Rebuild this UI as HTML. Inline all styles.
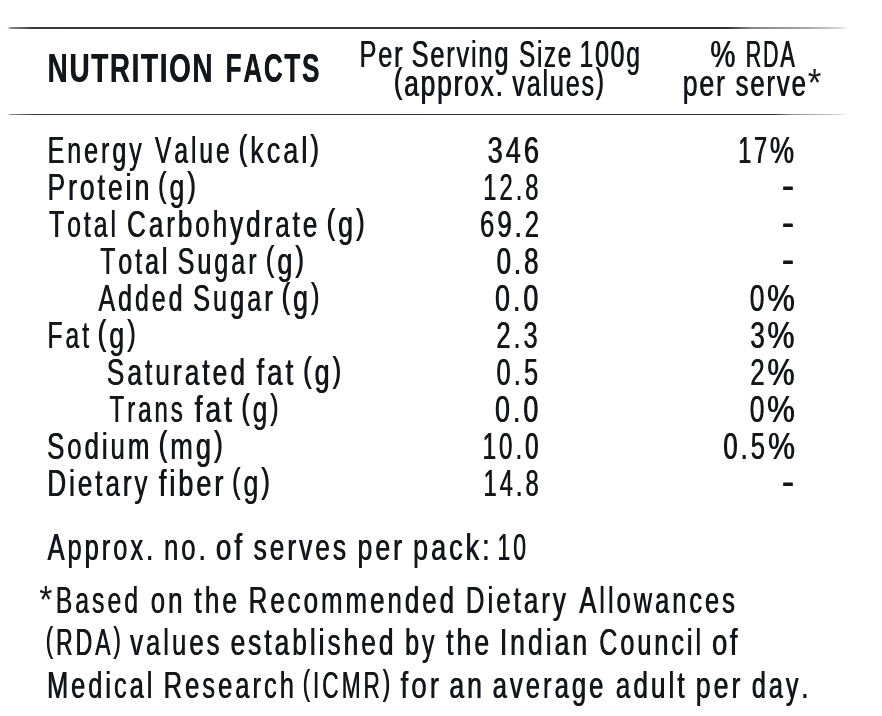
<!DOCTYPE html>
<html lang="en"><head><meta charset="utf-8"><title>Nutrition Facts</title>
<style>
html,body{margin:0;padding:0;background:#fff;}
body{width:882px;height:716px;overflow:hidden;position:relative;}
.as{display:inline-block;text-shadow:none;transform:scale(1.36,1.08);transform-origin:0 69%;margin-right:.14em;}
.pc{display:inline-block;transform:scaleX(1.18);transform-origin:0 50%;}
.p{position:relative;top:-3px;font-size:.96em;}
.t{position:absolute;left:0;top:0;margin:0;font-family:"Liberation Sans",sans-serif;color:#14161b;font-kerning:none;white-space:pre;line-height:1;transform-origin:0 0;}
.rule{position:absolute;left:7px;width:862px;height:1.4px;}
.r1{top:27.3px;background:linear-gradient(to right,rgba(38,38,38,0) 0,rgba(38,38,38,.55) 4px,rgba(38,38,38,.9) 25px,rgba(38,38,38,.95) 720px,rgba(38,38,38,.55) 745px,rgba(38,38,38,.4) 800px,rgba(38,38,38,.22) 830px,rgba(38,38,38,0) 842px);}
.r2{top:113.6px;background:linear-gradient(to right,rgba(38,38,38,0) 0,rgba(38,38,38,.55) 4px,rgba(38,38,38,.9) 25px,rgba(38,38,38,.95) 765px,rgba(38,38,38,.5) 785px,rgba(38,38,38,.35) 815px,rgba(38,38,38,.2) 832px,rgba(38,38,38,0) 842px);}
</style></head><body>
<div class="rule r1"></div>
<div class="rule r2"></div>
<div class="ln"><span class="t" style="font-size:40.7px;font-weight:700;letter-spacing:2.41px;text-shadow:0.5px 0 0 #14161b;transform:translate(47.52px,48px) scaleX(0.6846)">NUTRITION</span> <span class="t" style="font-size:40.7px;font-weight:700;letter-spacing:2.57px;text-shadow:0.5px 0 0 #14161b;transform:translate(225.54px,48px) scaleX(0.6425)">FACTS</span></div>
<div class="ln"><span class="t" style="font-size:36.6px;letter-spacing:2.59px;text-shadow:0.9px 0 0 #14161b;transform:translate(359.16px,37px) scaleX(0.6949)">Per</span> <span class="t" style="font-size:36.6px;letter-spacing:2.59px;text-shadow:0.9px 0 0 #14161b;transform:translate(411.29px,37px) scaleX(0.6938)">Serving</span> <span class="t" style="font-size:36.6px;letter-spacing:2.75px;text-shadow:0.9px 0 0 #14161b;transform:translate(518.86px,37px) scaleX(0.6551)">Size</span> <span class="t" style="font-size:36.6px;letter-spacing:2.66px;text-shadow:0.9px 0 0 #14161b;transform:translate(579.21px,37px) scaleX(0.677)">100g</span></div>
<div class="ln"><span class="t" style="font-size:36.6px;letter-spacing:2.5px;text-shadow:0.9px 0 0 #14161b;transform:translate(393.56px,66px) scaleX(0.7214)"><span class="p">(</span>approx.</span> <span class="t" style="font-size:36.6px;letter-spacing:2.62px;text-shadow:0.9px 0 0 #14161b;transform:translate(512.04px,66px) scaleX(0.6877)">values<span class="p">)</span></span></div>
<div class="ln"><span class="t" style="font-size:36.6px;letter-spacing:0px;text-shadow:0.9px 0 0 #14161b;transform:translate(710.01px,37px) scaleX(0.7698)">%</span> <span class="t" style="font-size:36.6px;letter-spacing:3.07px;text-shadow:0.9px 0 0 #14161b;transform:translate(745.49px,37px) scaleX(0.587)">RDA</span></div>
<div class="ln"><span class="t" style="font-size:36.6px;letter-spacing:2.47px;text-shadow:0.9px 0 0 #14161b;transform:translate(682.41px,66px) scaleX(0.7292)">per</span> <span class="t" style="font-size:36.6px;letter-spacing:2.64px;text-shadow:0.9px 0 0 #14161b;transform:translate(735.34px,66px) scaleX(0.7022)">serve<span class="as">*</span></span></div>
<div class="ln"><span class="t" style="font-size:36.6px;letter-spacing:4.4px;text-shadow:0.9px 0 0 #14161b;transform:translate(47.29px,133px) scaleX(0.6823)">Energy</span> <span class="t" style="font-size:36.6px;letter-spacing:4.49px;text-shadow:0.9px 0 0 #14161b;transform:translate(154.72px,133px) scaleX(0.6685)">Value</span> <span class="t" style="font-size:36.6px;letter-spacing:4.05px;text-shadow:0.9px 0 0 #14161b;transform:translate(238.22px,133px) scaleX(0.7401)"><span class="p">(</span>kcal<span class="p">)</span></span></div>
<div class="ln"><span class="t" style="font-size:36.6px;letter-spacing:4.15px;text-shadow:0.9px 0 0 #14161b;transform:translate(47.17px,170px) scaleX(0.7228)">Protein</span> <span class="t" style="font-size:36.6px;letter-spacing:4.12px;text-shadow:0.9px 0 0 #14161b;transform:translate(157.64px,170px) scaleX(0.7287)"><span class="p">(</span>g<span class="p">)</span></span></div>
<div class="ln"><span class="t" style="font-size:36.6px;letter-spacing:4.45px;text-shadow:0.9px 0 0 #14161b;transform:translate(48.83px,207px) scaleX(0.6744)">Total</span> <span class="t" style="font-size:36.6px;letter-spacing:4.23px;text-shadow:0.9px 0 0 #14161b;transform:translate(126.75px,207px) scaleX(0.7093)">Carbohydrate</span> <span class="t" style="font-size:36.6px;letter-spacing:4.09px;text-shadow:0.9px 0 0 #14161b;transform:translate(326.23px,207px) scaleX(0.7337)"><span class="p">(</span>g<span class="p">)</span></span></div>
<div class="ln"><span class="t" style="font-size:36.6px;letter-spacing:4.42px;text-shadow:0.9px 0 0 #14161b;transform:translate(99.93px,244px) scaleX(0.6782)">Total</span> <span class="t" style="font-size:36.6px;letter-spacing:4.37px;text-shadow:0.9px 0 0 #14161b;transform:translate(177.31px,244px) scaleX(0.6858)">Sugar</span> <span class="t" style="font-size:36.6px;letter-spacing:4.07px;text-shadow:0.9px 0 0 #14161b;transform:translate(265.43px,244px) scaleX(0.7362)"><span class="p">(</span>g<span class="p">)</span></span></div>
<div class="ln"><span class="t" style="font-size:36.6px;letter-spacing:4.4px;text-shadow:0.9px 0 0 #14161b;transform:translate(98.16px,281px) scaleX(0.6812)">Added</span> <span class="t" style="font-size:36.6px;letter-spacing:4.46px;text-shadow:0.9px 0 0 #14161b;transform:translate(192.84px,281px) scaleX(0.69)">Sugar</span> <span class="t" style="font-size:36.6px;letter-spacing:4.12px;text-shadow:0.9px 0 0 #14161b;transform:translate(281.34px,281px) scaleX(0.7287)"><span class="p">(</span>g<span class="p">)</span></span></div>
<div class="ln"><span class="t" style="font-size:36.6px;letter-spacing:4.46px;text-shadow:0.9px 0 0 #14161b;transform:translate(47.22px,318px) scaleX(0.6727)">Fat</span> <span class="t" style="font-size:36.6px;letter-spacing:4.07px;text-shadow:0.9px 0 0 #14161b;transform:translate(97.33px,318px) scaleX(0.7362)"><span class="p">(</span>g<span class="p">)</span></span></div>
<div class="ln"><span class="t" style="font-size:36.6px;letter-spacing:4.17px;text-shadow:0.9px 0 0 #14161b;transform:translate(106.44px,355px) scaleX(0.7198)">Saturated</span> <span class="t" style="font-size:36.6px;letter-spacing:3.96px;text-shadow:0.9px 0 0 #14161b;transform:translate(256.17px,355px) scaleX(0.757)">fat</span> <span class="t" style="font-size:36.6px;letter-spacing:4.09px;text-shadow:0.9px 0 0 #14161b;transform:translate(302.73px,355px) scaleX(0.7337)"><span class="p">(</span>g<span class="p">)</span></span></div>
<div class="ln"><span class="t" style="font-size:36.6px;letter-spacing:4.58px;text-shadow:0.9px 0 0 #14161b;transform:translate(109.25px,392px) scaleX(0.6551)">Trans</span> <span class="t" style="font-size:36.6px;letter-spacing:3.89px;text-shadow:0.9px 0 0 #14161b;transform:translate(194.26px,392px) scaleX(0.7717)">fat</span> <span class="t" style="font-size:36.6px;letter-spacing:4.2px;text-shadow:0.9px 0 0 #14161b;transform:translate(241.08px,392px) scaleX(0.7138)"><span class="p">(</span>g<span class="p">)</span></span></div>
<div class="ln"><span class="t" style="font-size:36.6px;letter-spacing:4.21px;text-shadow:0.9px 0 0 #14161b;transform:translate(46.8px,429px) scaleX(0.7044)">Sodium</span> <span class="t" style="font-size:36.6px;letter-spacing:4.03px;text-shadow:0.9px 0 0 #14161b;transform:translate(158.21px,429px) scaleX(0.7443)"><span class="p">(</span>mg<span class="p">)</span></span></div>
<div class="ln"><span class="t" style="font-size:36.6px;letter-spacing:4.24px;text-shadow:0.9px 0 0 #14161b;transform:translate(47.12px,466px) scaleX(0.7079)">Dietary</span> <span class="t" style="font-size:36.6px;letter-spacing:4.06px;text-shadow:0.9px 0 0 #14161b;transform:translate(158.48px,466px) scaleX(0.7381)">fiber</span> <span class="t" style="font-size:36.6px;letter-spacing:4.12px;text-shadow:0.9px 0 0 #14161b;transform:translate(231.64px,466px) scaleX(0.7287)"><span class="p">(</span>g<span class="p">)</span></span></div>
<div class="ln"><span class="t" style="font-size:36.6px;letter-spacing:4.04px;text-shadow:0.9px 0 0 #14161b;transform:translate(487.32px,133px) scaleX(0.7427)">346</span></div>
<div class="ln"><span class="t" style="font-size:36.6px;letter-spacing:4.62px;text-shadow:0.9px 0 0 #14161b;transform:translate(482.99px,170px) scaleX(0.6488)">12.8</span></div>
<div class="ln"><span class="t" style="font-size:36.6px;letter-spacing:4.19px;text-shadow:0.9px 0 0 #14161b;transform:translate(479.7px,207px) scaleX(0.7048)">69.2</span></div>
<div class="ln"><span class="t" style="font-size:36.6px;letter-spacing:4.25px;text-shadow:0.9px 0 0 #14161b;transform:translate(496.25px,244px) scaleX(0.7058)">0.8</span></div>
<div class="ln"><span class="t" style="font-size:36.6px;letter-spacing:4.09px;text-shadow:0.9px 0 0 #14161b;transform:translate(494.71px,281px) scaleX(0.734)">0.0</span></div>
<div class="ln"><span class="t" style="font-size:36.6px;letter-spacing:4.32px;text-shadow:0.9px 0 0 #14161b;transform:translate(496.01px,318px) scaleX(0.6948)">2.3</span></div>
<div class="ln"><span class="t" style="font-size:36.6px;letter-spacing:4.47px;text-shadow:0.9px 0 0 #14161b;transform:translate(496.24px,355px) scaleX(0.6948)">0.5</span></div>
<div class="ln"><span class="t" style="font-size:36.6px;letter-spacing:4.09px;text-shadow:0.9px 0 0 #14161b;transform:translate(494.71px,392px) scaleX(0.734)">0.0</span></div>
<div class="ln"><span class="t" style="font-size:36.6px;letter-spacing:4.55px;text-shadow:0.9px 0 0 #14161b;transform:translate(482.36px,429px) scaleX(0.6589)">10.0</span></div>
<div class="ln"><span class="t" style="font-size:36.6px;letter-spacing:4.62px;text-shadow:0.9px 0 0 #14161b;transform:translate(483.19px,466px) scaleX(0.6488)">14.8</span></div>
<div class="ln"><span class="t" style="font-size:36.6px;letter-spacing:4.72px;text-shadow:0.9px 0 0 #14161b;transform:translate(738.06px,133px) scaleX(0.6306)">17<span class="pc">%</span></span></div>
<div class="ln"><span class="t" style="font-size:36.6px;letter-spacing:3.78px;text-shadow:0.9px 0 0 #14161b;transform:translate(749.41px,281px) scaleX(0.7218)">0<span class="pc">%</span></span></div>
<div class="ln"><span class="t" style="font-size:36.6px;letter-spacing:3.93px;text-shadow:0.9px 0 0 #14161b;transform:translate(750.07px,318px) scaleX(0.7069)">3<span class="pc">%</span></span></div>
<div class="ln"><span class="t" style="font-size:36.6px;letter-spacing:3.32px;text-shadow:0.9px 0 0 #14161b;transform:translate(749.96px,355px) scaleX(0.7104)">2<span class="pc">%</span></span></div>
<div class="ln"><span class="t" style="font-size:36.6px;letter-spacing:3.78px;text-shadow:0.9px 0 0 #14161b;transform:translate(749.41px,392px) scaleX(0.7218)">0<span class="pc">%</span></span></div>
<div class="ln"><span class="t" style="font-size:36.6px;letter-spacing:4.3px;text-shadow:0.9px 0 0 #14161b;transform:translate(723.11px,429px) scaleX(0.6991)">0.5<span class="pc">%</span></span></div>
<div class="ln"><span class="t" style="font-size:42.5px;letter-spacing:0px;text-shadow:0.9px 0 0 #14161b;transform:translate(781.56px,165px) scaleX(0.8632)">-</span></div>
<div class="ln"><span class="t" style="font-size:42.5px;letter-spacing:0px;text-shadow:0.9px 0 0 #14161b;transform:translate(781.56px,202px) scaleX(0.8632)">-</span></div>
<div class="ln"><span class="t" style="font-size:42.5px;letter-spacing:0px;text-shadow:0.9px 0 0 #14161b;transform:translate(781.56px,239px) scaleX(0.8632)">-</span></div>
<div class="ln"><span class="t" style="font-size:42.5px;letter-spacing:0px;text-shadow:0.9px 0 0 #14161b;transform:translate(781.56px,461px) scaleX(0.8632)">-</span></div>
<div class="ln"><span class="t" style="font-size:36.6px;letter-spacing:4.32px;text-shadow:0.9px 0 0 #14161b;transform:translate(47.25px,530px) scaleX(0.6951)">Approx.</span> <span class="t" style="font-size:36.6px;letter-spacing:4.26px;text-shadow:0.9px 0 0 #14161b;transform:translate(163.63px,530px) scaleX(0.7036)">no.</span> <span class="t" style="font-size:36.6px;letter-spacing:3.94px;text-shadow:0.9px 0 0 #14161b;transform:translate(215.57px,530px) scaleX(0.7606)">of</span> <span class="t" style="font-size:36.6px;letter-spacing:4.18px;text-shadow:0.9px 0 0 #14161b;transform:translate(253.26px,530px) scaleX(0.7183)">serves</span> <span class="t" style="font-size:36.6px;letter-spacing:4.11px;text-shadow:0.9px 0 0 #14161b;transform:translate(357.21px,530px) scaleX(0.7292)">per</span> <span class="t" style="font-size:36.6px;letter-spacing:4.06px;text-shadow:0.9px 0 0 #14161b;transform:translate(412.68px,530px) scaleX(0.7393)">pack:</span> <span class="t" style="font-size:36.6px;letter-spacing:4.77px;text-shadow:0.9px 0 0 #14161b;transform:translate(497.24px,530px) scaleX(0.6283)">10</span></div>
<div class="ln"><span class="t" style="font-size:36.6px;letter-spacing:4.42px;text-shadow:0.9px 0 0 #14161b;transform:translate(39.25px,583px) scaleX(0.6786)"><span class="as">*</span>Based</span> <span class="t" style="font-size:36.6px;letter-spacing:4.26px;text-shadow:0.9px 0 0 #14161b;transform:translate(150.47px,583px) scaleX(0.7041)">on</span> <span class="t" style="font-size:36.6px;letter-spacing:4.25px;text-shadow:0.9px 0 0 #14161b;transform:translate(194.12px,583px) scaleX(0.7178)">the</span> <span class="t" style="font-size:36.6px;letter-spacing:4.24px;text-shadow:0.9px 0 0 #14161b;transform:translate(248.32px,583px) scaleX(0.707)">Recommended</span> <span class="t" style="font-size:36.6px;letter-spacing:4.23px;text-shadow:0.9px 0 0 #14161b;transform:translate(465.41px,583px) scaleX(0.7088)">Dietary</span> <span class="t" style="font-size:36.6px;letter-spacing:4.32px;text-shadow:0.9px 0 0 #14161b;transform:translate(579.05px,583px) scaleX(0.6946)">Allowances</span></div>
<div class="ln"><span class="t" style="font-size:36.6px;letter-spacing:4.79px;text-shadow:0.9px 0 0 #14161b;transform:translate(45.48px,625px) scaleX(0.6264)"><span class="p">(</span>RDA<span class="p">)</span></span> <span class="t" style="font-size:36.6px;letter-spacing:4.27px;text-shadow:0.9px 0 0 #14161b;transform:translate(129.84px,625px) scaleX(0.7027)">values</span> <span class="t" style="font-size:36.6px;letter-spacing:4.17px;text-shadow:0.9px 0 0 #14161b;transform:translate(230.23px,625px) scaleX(0.7186)">established</span> <span class="t" style="font-size:36.6px;letter-spacing:4.39px;text-shadow:0.9px 0 0 #14161b;transform:translate(404.82px,625px) scaleX(0.6841)">by</span> <span class="t" style="font-size:36.6px;letter-spacing:4.14px;text-shadow:0.9px 0 0 #14161b;transform:translate(445.97px,625px) scaleX(0.7239)">the</span> <span class="t" style="font-size:36.6px;letter-spacing:4.13px;text-shadow:0.9px 0 0 #14161b;transform:translate(499.5px,625px) scaleX(0.7257)">Indian</span> <span class="t" style="font-size:36.6px;letter-spacing:4.36px;text-shadow:0.9px 0 0 #14161b;transform:translate(598.89px,625px) scaleX(0.6876)">Council</span> <span class="t" style="font-size:36.6px;letter-spacing:3.63px;text-shadow:0.9px 0 0 #14161b;transform:translate(711.71px,625px) scaleX(0.7438)">of</span></div>
<div class="ln"><span class="t" style="font-size:36.6px;letter-spacing:4.33px;text-shadow:0.9px 0 0 #14161b;transform:translate(46.76px,668px) scaleX(0.6927)">Medical</span> <span class="t" style="font-size:36.6px;letter-spacing:4.3px;text-shadow:0.9px 0 0 #14161b;transform:translate(163.35px,668px) scaleX(0.6979)">Research</span> <span class="t" style="font-size:36.6px;letter-spacing:4.85px;text-shadow:0.9px 0 0 #14161b;transform:translate(302.49px,668px) scaleX(0.6188)"><span class="p">(</span>ICMR<span class="p">)</span></span> <span class="t" style="font-size:36.6px;letter-spacing:3.94px;text-shadow:0.9px 0 0 #14161b;transform:translate(400.17px,668px) scaleX(0.7616)">for</span> <span class="t" style="font-size:36.6px;letter-spacing:4.13px;text-shadow:0.9px 0 0 #14161b;transform:translate(448.99px,668px) scaleX(0.7265)">an</span> <span class="t" style="font-size:36.6px;letter-spacing:4.27px;text-shadow:0.9px 0 0 #14161b;transform:translate(492.33px,668px) scaleX(0.7021)">average</span> <span class="t" style="font-size:36.6px;letter-spacing:4.18px;text-shadow:0.9px 0 0 #14161b;transform:translate(615.41px,668px) scaleX(0.7171)">adult</span> <span class="t" style="font-size:36.6px;letter-spacing:4.1px;text-shadow:0.9px 0 0 #14161b;transform:translate(695.4px,668px) scaleX(0.7312)">per</span> <span class="t" style="font-size:36.6px;letter-spacing:4.36px;text-shadow:0.9px 0 0 #14161b;transform:translate(751.6px,668px) scaleX(0.6873)">day.</span></div>
</body></html>
